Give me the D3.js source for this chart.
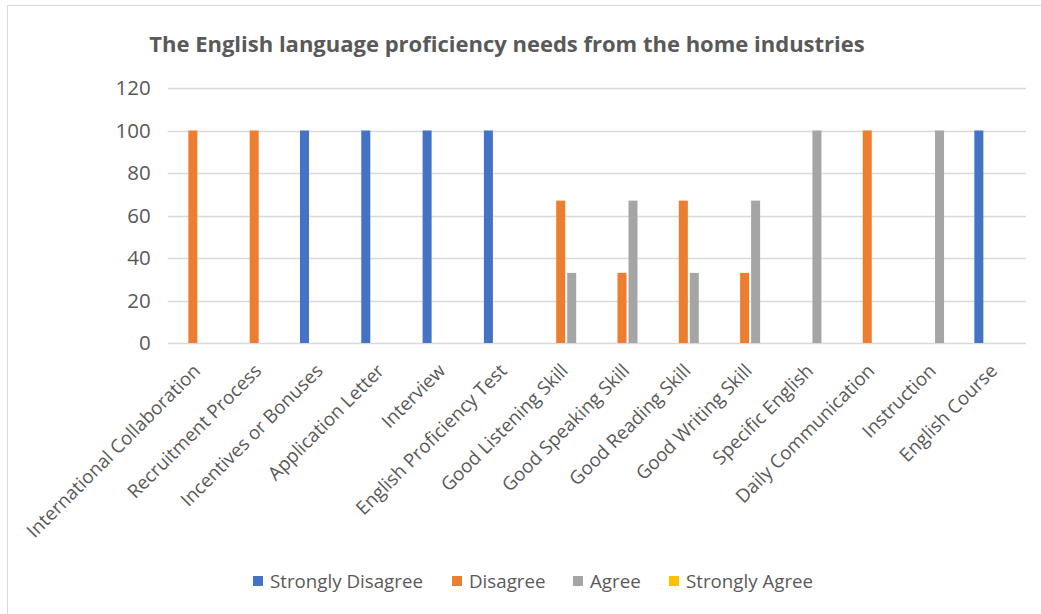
<!DOCTYPE html>
<html>
<head>
<meta charset="utf-8">
<script src="https://cdn.jsdelivr.net/npm/d3@7"></script>
<style>
  html, body { margin: 0; padding: 0; background: #fff; }
  svg { display: block; }
</style>
</head>
<body>
<svg id="chart" width="1041" height="614"></svg>
<script>
const categories = [
  "International Collaboration", "Recruitment Process", "Incentives or Bonuses",
  "Application Letter", "Interview", "English Proficiency Test",
  "Good Listening Skill", "Good Speaking Skill", "Good Reading Skill",
  "Good Writing Skill", "Specific English", "Daily Communication",
  "Instruction", "English Course"
];
const seriesNames = ["Strongly Disagree", "Disagree", "Agree", "Strongly Agree"];
const stronglyDisagree = [0, 0, 100, 100, 100, 100, 0, 0, 0, 0, 0, 0, 0, 100];
const disagree         = [100, 100, 0, 0, 0, 0, 67, 33, 67, 33, 0, 100, 0, 0];
const agree            = [0, 0, 0, 0, 0, 0, 33, 67, 33, 67, 100, 0, 100, 0];
const stronglyAgree    = [0, 0, 0, 0, 0, 0, 0, 0, 0, 0, 0, 0, 0, 0];
const yTicks = [0, 20, 40, 60, 80, 100, 120];
const title = "The English language proficiency needs from the home industries";

const seriesValues = [stronglyDisagree, disagree, agree, stronglyAgree];
const colors = ["#4472C4", "#ED7D31", "#A5A5A5", "#FFC000"];

const svg = d3.select("#chart");
const font = "'Open Sans', 'Noto Sans', sans-serif";

function fitFont(sel, base, target) {
  const w = sel.node().getComputedTextLength();
  return base * target / w;
}

// chart area border
svg.append("rect").attr("x", 7.5).attr("y", 5.5).attr("width", 1041).attr("height", 620)
  .attr("fill", "#fff").attr("stroke", "#d9d9d9").attr("stroke-width", 1);

const plot = { left: 167.7, right: 1026, top: 88, bottom: 343 };

const x0 = d3.scaleBand().domain(categories).range([plot.left, plot.right])
  .paddingInner(0.315).paddingOuter(0.1575);
const x1 = d3.scaleBand().domain(seriesNames).range([0, x0.bandwidth()]).paddingInner(0.18);
const y = d3.scaleLinear().domain([0, 120]).range([plot.bottom, plot.top]);

// gridlines
svg.append("g").selectAll("line").data(yTicks).join("line")
  .attr("x1", plot.left).attr("x2", plot.right)
  .attr("y1", d => Math.round(y(d)) + 0.5).attr("y2", d => Math.round(y(d)) + 0.5)
  .attr("stroke", "#d9d9d9").attr("stroke-width", 1.5);

// y axis labels
const yAxis = d3.axisLeft(y).tickValues(yTicks).tickSize(0).tickPadding(17);
const yg = svg.append("g").attr("transform", `translate(${plot.left},0)`).call(yAxis);
yg.select(".domain").remove();
yg.selectAll("text").attr("fill", "#595959").style("font-family", font).style("font-size", "20.5px");

// bars
const data = categories.map((c, i) => ({ cat: c, vals: seriesNames.map((s, k) => ({ s, k, v: seriesValues[k][i] })) }));
const groups = svg.append("g").selectAll("g").data(data).join("g")
  .attr("transform", d => `translate(${x0(d.cat)},0)`);
groups.selectAll("rect").data(d => d.vals.filter(e => e.v > 0)).join("rect")
  .attr("x", e => x1(e.s)).attr("width", x1.bandwidth())
  .attr("y", e => y(e.v)).attr("height", e => y(0) - y(e.v))
  .attr("fill", e => colors[e.k]);

// x axis labels
const xAxis = d3.axisBottom(x0).tickSize(0).tickPadding(0);
const xg = svg.append("g").attr("transform", `translate(0,${plot.bottom})`).call(xAxis);
xg.select(".domain").remove();
const xt = xg.selectAll("text")
  .attr("fill", "#595959").style("font-family", font).style("font-size", "16px")
  .attr("text-anchor", "end").attr("dy", 0).attr("y", 0);
const xfs = fitFont(xg.select("text"), 16, 236);
xt.style("font-size", xfs + "px").attr("transform", "translate(3,29) rotate(-45)");

// title
const t = svg.append("text").attr("x", 507).attr("y", 52).attr("text-anchor", "middle")
  .attr("fill", "#595959").style("font-family", font).style("font-weight", "bold")
  .style("font-size", "20px").text(title);
t.style("font-size", fitFont(t, 20, 716) + "px");

// legend
const legendX = [253, 452, 573, 669];
const lg = svg.append("g").selectAll("g").data(seriesNames).join("g")
  .attr("transform", (d, i) => `translate(${legendX[i]},581)`);
lg.append("rect").attr("x", 0).attr("y", -5).attr("width", 10).attr("height", 10)
  .attr("fill", (d, i) => colors[i]);
const ltxt = lg.append("text").attr("x", 17).attr("y", 0).attr("dy", "0.35em")
  .attr("fill", "#595959").style("font-family", font).style("font-size", "16px")
  .text(d => d);
ltxt.style("font-size", fitFont(lg.select("text"), 16, 153) + "px");
</script>
</body>
</html>
